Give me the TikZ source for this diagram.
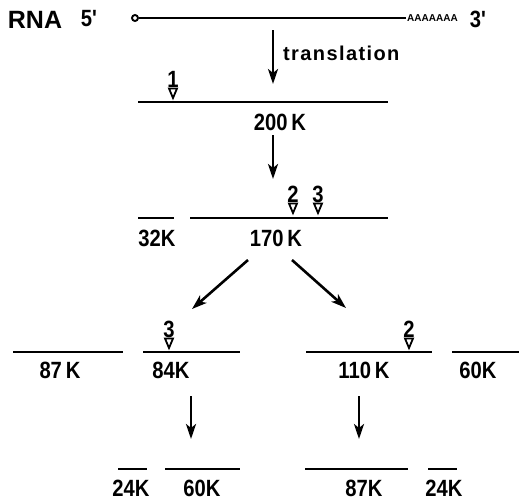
\documentclass[tikz,border=0pt]{standalone}
\usepackage{fontspec}
\setmainfont{Liberation Sans}
\newfontfamily\lblfont[FakeStretch=0.86]{Liberation Sans}
\newfontfamily\wordfont[LetterSpace=7]{Liberation Sans}
\usetikzlibrary{arrows.meta}
\tikzset{
  chain/.style={line width=2.8pt},
  flow/.style={line width=2.6pt,-{Stealth[length=15pt,width=10pt,inset=4pt]}},
  lbl/.style={font=\lblfont\fontsize{23.5}{24}\selectfont\bfseries,inner sep=0pt},
  site/.style={line width=1.8pt,line join=miter},
}
\newcommand{\cutsite}[4]{% name, x, y of the triangle tip, digit
  \draw[site] (#2-4,#3-9.5) -- (#2+4,#3-9.5) -- (#2,#3) -- cycle;
  \node[lbl,anchor=south] (#1) at (#2,#3-10.5) {#4};
}
\begin{document}
\begin{tikzpicture}[x=1pt,y=-1pt]
\useasboundingbox (0,0) rectangle (519,501);

% messenger RNA
\node[font=\fontsize{25}{25}\selectfont\bfseries,inner sep=0pt] (rna) at (35,20) {RNA};
\node[lbl] (p5) at (89,19) {5'};
\node[lbl] (p3) at (478,19) {3'};
\draw[line width=1.9pt] (135,18) circle (3pt);
\draw[chain] (138.5,18) -- (406,18);
\node[font=\fontsize{10}{10}\selectfont\bfseries,inner sep=0pt,anchor=west] (polya) at (407,18) {AAAAAAA};

% translation step
\coordinate (t1) at (273,30);
\coordinate (t2) at (273,84);
\draw[flow] (t1) -- (t2);
\node[font=\wordfont\fontsize{20}{20}\selectfont\bfseries,inner sep=0pt,anchor=west] (tr) at (283,53) {translation};

% 200K precursor
\draw[chain] (138,102) -- (388,102);
\cutsite{c1}{173}{98}{1}
\node[lbl] (p200) at (280,122) {200\,K};

% 200K -> 170K + 32K
\coordinate (a1) at (273,135);
\coordinate (a2) at (273,179);
\draw[flow] (a1) -- (a2);
\draw[chain] (138,218) -- (174,218);
\draw[chain] (190,218) -- (388,218);
\cutsite{c2}{293}{213}{2}
\cutsite{c3}{318}{213}{3}
\node[lbl] (p32) at (157,238) {32K};
\node[lbl] (p170) at (276,238) {170\,K};

% two alternative cleavages of 170K
\coordinate (l1) at (248,260);
\coordinate (l2) at (192,309);
\coordinate (r1) at (292,260);
\coordinate (r2) at (346,308);
\draw[flow] (l1) -- (l2);
\draw[flow] (r1) -- (r2);

\draw[chain] (13,352) -- (123,352);
\draw[chain] (143,352) -- (240,352);
\draw[chain] (306,352) -- (432,352);
\draw[chain] (452,352) -- (519,352);
\cutsite{c3b}{169}{348}{3}
\cutsite{c2b}{409}{348}{2}
\node[lbl] (p87a) at (60,370) {87\,K};
\node[lbl] (p84) at (171,370) {84K};
\node[lbl] (p110) at (364,370) {110\,K};
\node[lbl] (p60a) at (478,370) {60K};

% final products
\coordinate (d1) at (191,396);
\coordinate (d2) at (191,439);
\coordinate (e1) at (359,396);
\coordinate (e2) at (359,439);
\draw[flow] (d1) -- (d2);
\draw[flow] (e1) -- (e2);

\draw[chain] (118,469) -- (147,469);
\draw[chain] (165,469) -- (240,469);
\draw[chain] (305,469) -- (408,469);
\draw[chain] (428,469) -- (457,469);
\node[lbl] (p24a) at (131,488) {24K};
\node[lbl] (p60b) at (202,488) {60K};
\node[lbl] (p87b) at (364,488) {87K};
\node[lbl] (p24b) at (444,488) {24K};
\end{tikzpicture}
\end{document}
